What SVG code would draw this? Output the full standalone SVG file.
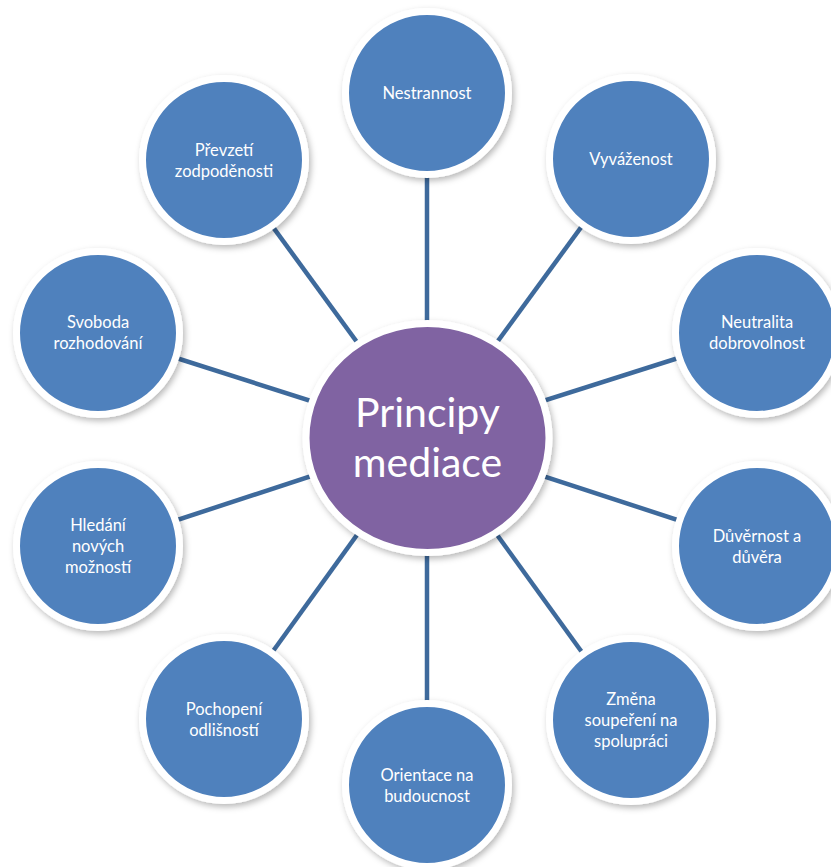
<svg xmlns="http://www.w3.org/2000/svg" width="831" height="867" viewBox="0 0 831 867">
<defs>
<filter id="sh" x="-20%" y="-20%" width="150%" height="150%">
<feDropShadow dx="2" dy="3" stdDeviation="3" flood-color="#000" flood-opacity="0.28"/>
</filter>
<style>
.node{fill:#4f81bd;stroke:#fff;stroke-width:7;filter:url(#sh)}
.hub{fill:#8064a2;stroke:#fff;stroke-width:7;filter:url(#sh)}
.t{font-family:Lato,"Open Sans",sans-serif;font-size:16.5px;fill:#fff;text-anchor:middle}
.ht{font-family:Lato,"Open Sans",sans-serif;font-size:41px;fill:#fff;text-anchor:middle}
.c{stroke:#3e6a9c;stroke-width:4.5;fill:none}
</style>
</defs>
<rect width="831" height="867" fill="#fff"/>
<g id="connectors">
<line class="c" x1="427" y1="438" x2="427" y2="93"/>
<line class="c" x1="427" y1="438" x2="631" y2="159"/>
<line class="c" x1="427" y1="438" x2="757" y2="333"/>
<line class="c" x1="427" y1="438" x2="757" y2="546"/>
<line class="c" x1="427" y1="438" x2="631" y2="720"/>
<line class="c" x1="427" y1="438" x2="427" y2="785"/>
<line class="c" x1="427" y1="438" x2="224" y2="719"/>
<line class="c" x1="427" y1="438" x2="98" y2="546"/>
<line class="c" x1="427" y1="438" x2="98" y2="333"/>
<line class="c" x1="427" y1="438" x2="224" y2="160"/>
</g>
<g id="n-nestrannost"><circle class="node" cx="427" cy="93" r="81.5"/><text class="t" x="427" y="99">Nestrannost</text></g>
<g id="n-vyvazenost"><circle class="node" cx="631" cy="159" r="81.5"/><text class="t" x="631" y="165">Vyváženost</text></g>
<g id="n-neutralita"><circle class="node" cx="757" cy="333" r="81.5"/><text class="t" x="757" y="328">Neutralita</text><text class="t" x="757" y="349">dobrovolnost</text></g>
<g id="n-duvernost"><circle class="node" cx="757" cy="546" r="81.5"/><text class="t" x="757" y="542">Důvěrnost a</text><text class="t" x="757" y="563">důvěra</text></g>
<g id="n-zmena"><circle class="node" cx="631" cy="720" r="81.5"/><text class="t" x="631" y="705">Změna</text><text class="t" x="631" y="726">soupeření na</text><text class="t" x="631" y="747">spolupráci</text></g>
<g id="n-orientace"><circle class="node" cx="427" cy="785" r="81.5"/><text class="t" x="427" y="781">Orientace na</text><text class="t" x="427" y="802">budoucnost</text></g>
<g id="n-pochopeni"><circle class="node" cx="224" cy="719" r="81.5"/><text class="t" x="224" y="715">Pochopení</text><text class="t" x="224" y="736">odlišností</text></g>
<g id="n-hledani"><circle class="node" cx="98" cy="546" r="81.5"/><text class="t" x="98" y="531">Hledání</text><text class="t" x="98" y="552">nových</text><text class="t" x="98" y="573">možností</text></g>
<g id="n-svoboda"><circle class="node" cx="98" cy="333" r="81.5"/><text class="t" x="98" y="328">Svoboda</text><text class="t" x="98" y="349">rozhodování</text></g>
<g id="n-prevzeti"><circle class="node" cx="224" cy="160" r="81.5"/><text class="t" x="224" y="156">Převzetí</text><text class="t" x="224" y="177">zodpoděnosti</text></g>
<g id="n-principy"><ellipse class="hub" cx="427.5" cy="438" rx="121.5" ry="114.5"/><text class="ht" x="427.5" y="427">Principy</text><text class="ht" x="427.5" y="477">mediace</text></g>
</svg>
